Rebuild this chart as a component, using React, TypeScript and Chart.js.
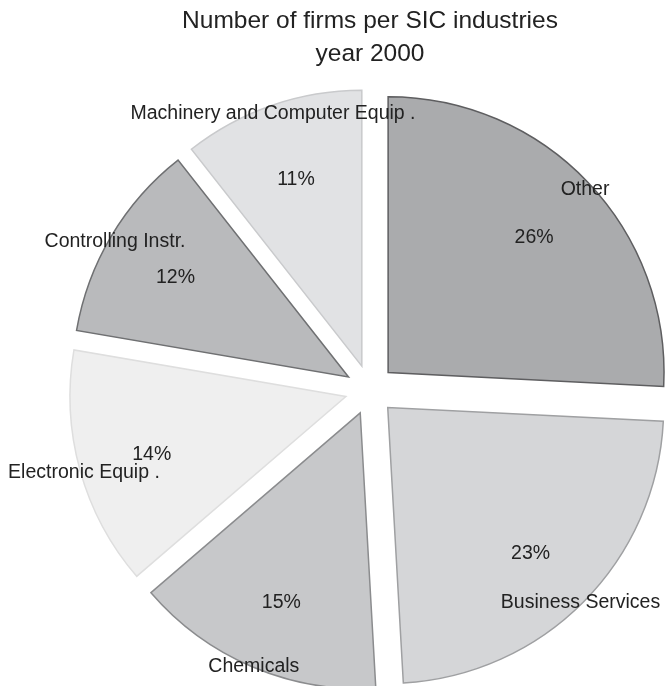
import React, { useEffect, useRef } from 'react';
import { Chart, registerables } from 'chart.js';

Chart.register(...registerables);

const categories = [
  'Other',
  'Business Services',
  'Chemicals',
  'Electronic Equip .',
  'Controlling Instr.',
  'Machinery and Computer Equip .',
];
// shares of firms (%); labels show the rounded value
const shares = [25.8, 23.3, 14.6, 14.0, 11.7, 10.6];
const fillColors = ['#aaabad', '#d5d6d8', '#c7c8ca', '#efefef', '#b9babc', '#e1e2e4'];
const borderColors = ['#5e5e60', '#9fa0a2', '#8b8c8e', '#dedede', '#6f7072', '#c9cacc'];
const titleLines = ['Number of firms per SIC industries', 'year 2000'];

const EXPLODE = 25;
const LABEL_DY = 4;
const FONT_FAMILY = '"Liberation Sans", Arial, Helvetica, sans-serif';

const explodePlugin = {
  id: 'explodeSlices',
  beforeDatasetDraw(chart: any, args: any) {
    const ctx = chart.ctx;
    args.meta.data.forEach((arc: any) => {
      const mid = (arc.startAngle + arc.endAngle) / 2;
      ctx.save();
      ctx.translate(Math.cos(mid) * EXPLODE, Math.sin(mid) * EXPLODE);
      arc.draw(ctx, chart.chartArea);
      ctx.restore();
    });
    return false;
  },
};

const labelPlugin = {
  id: 'sliceLabels',
  afterDatasetsDraw(chart: any) {
    const meta = chart.getDatasetMeta(0);
    const ctx = chart.ctx;
    const total = shares.reduce((a, b) => a + b, 0);
    ctx.save();
    ctx.font = '19.5px ' + FONT_FAMILY;
    ctx.fillStyle = '#222222';
    ctx.textAlign = 'center';
    ctx.textBaseline = 'middle';
    meta.data.forEach((arc: any, i: number) => {
      const { x, y, startAngle, endAngle, outerRadius } = arc.getProps(
        ['x', 'y', 'startAngle', 'endAngle', 'outerRadius'],
        true
      );
      const mid = (startAngle + endAngle) / 2;
      const c = Math.cos(mid);
      const s = Math.sin(mid);
      const cx = x + c * EXPLODE;
      const cy = y + s * EXPLODE + LABEL_DY;
      const pct = Math.round((shares[i] / total) * 100) + '%';
      ctx.fillText(pct, cx + c * outerRadius * 0.73, cy + s * outerRadius * 0.73);
      ctx.fillText(categories[i], cx + c * outerRadius * 0.985, cy + s * outerRadius * 0.985);
    });
    ctx.restore();
  },
};

export default function App() {
  const canvasRef = useRef<HTMLCanvasElement | null>(null);

  useEffect(() => {
    if (!canvasRef.current) return;
    const chart = new Chart(canvasRef.current, {
      type: 'pie',
      data: {
        labels: categories,
        datasets: [
          {
            data: shares,
            backgroundColor: fillColors,
            borderColor: borderColors,
            borderWidth: 1.5,
            borderJoinStyle: 'miter',
          } as any,
        ],
      },
      options: {
        animation: false,
        responsive: false,
        devicePixelRatio: 1,
        layout: { padding: { left: 93, right: 21, top: 0, bottom: 19.5 } },
        plugins: {
          legend: { display: false },
          tooltip: { enabled: false },
          title: {
            display: true,
            text: titleLines,
            color: '#222222',
            font: { family: FONT_FAMILY, size: 24.5, weight: 'normal', lineHeight: 1.35 },
            padding: { top: 5, bottom: 42 },
          },
        },
      } as any,
      plugins: [explodePlugin, labelPlugin],
    });
    return () => chart.destroy();
  }, []);

  return (
    <div style={{ position: 'fixed', left: 0, top: 0, width: 668, height: 686, background: '#fff' }}>
      <canvas ref={canvasRef} width={668} height={686} style={{ display: 'block' }} />
    </div>
  );
}
